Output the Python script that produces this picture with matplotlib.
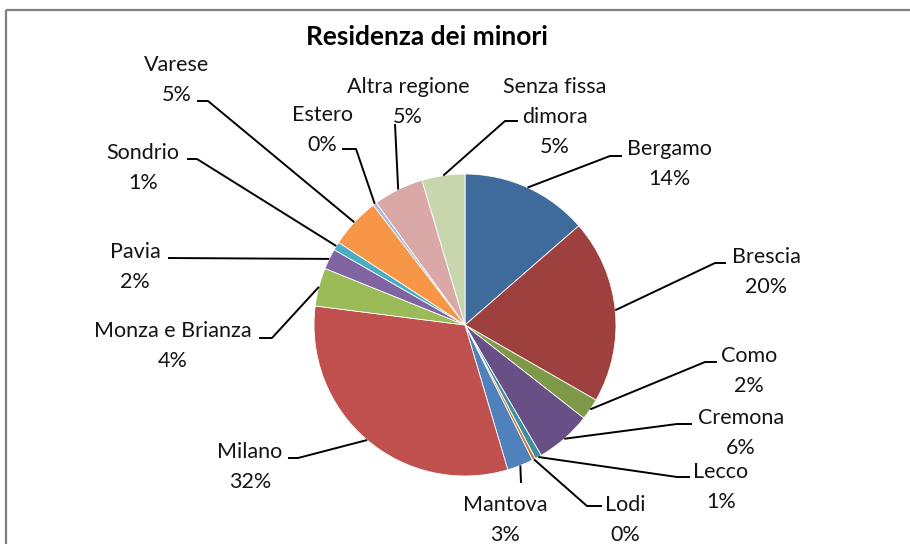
import numpy as np
import matplotlib
matplotlib.use("Agg")
import matplotlib.pyplot as plt
from matplotlib.patches import Rectangle

plt.rcParams['font.family'] = ['Lato', 'DejaVu Sans']

# --- Data (share of minors by residence) ---
categories = ["Bergamo", "Brescia", "Como", "Cremona", "Lecco", "Lodi", "Mantova",
              "Milano", "Monza e Brianza", "Pavia", "Sondrio", "Varese", "Estero",
              "Altra regione", "Senza fissa\ndimora"]
values = [13.6, 19.7, 2.3, 6.0, 0.7, 0.35, 2.8, 31.6, 4.1, 2.2, 0.9, 5.4, 0.4, 5.4, 4.6]
colors = ["#3F6B9C", "#9E413E", "#7E9A48", "#684F86", "#3D8FA4", "#CC7A30", "#4F81BD",
          "#C0504D", "#9BBB59", "#8064A2", "#4BACC6", "#F79646", "#A9B8D9", "#D9A8A7",
          "#C7D6AD"]

# --- Label layout (pixel coords, y down): text centre, leader path from wedge outwards ---
label_xy = [(669, 164), (766, 272), (749, 371), (741, 433), (721, 487), (625, 520),
            (505, 520), (250, 467), (173, 346), (135, 267), (143, 168), (177, 80),
            (322, 130), (408, 102), (555, 117)]
leader_pts = [
    [(610, 156), (622, 156)],
    [(715, 263), (726, 263)],
    [(705, 362), (717, 362)],
    [(677, 424), (692, 424)],
    [(677, 477), (690, 477)],
    [(587, 506), (602, 506)],
    [(521, 483)],
    [(298, 458), (288, 458)],
    [(272, 338), (259, 338)],
    [(168, 258)],
    [(197, 159), (187, 159)],
    [(208, 101), (197, 101)],
    [(356, 149), (342, 149)],
    [(395, 124)],
    [(505, 121), (518, 121)],
]

fig = plt.figure(figsize=(9.1, 5.44), dpi=100)
ax = fig.add_axes([0, 0, 1, 1])

# y axis is flipped below, so startangle=-90 + counterclock means "from 12 o'clock, clockwise"
wedges, _ = ax.pie(values, colors=colors, startangle=-90, counterclock=True,
                   center=(465, 325), radius=151,
                   wedgeprops=dict(edgecolor="white", linewidth=0.6))

ax.set_xlim(0, 910)
ax.set_ylim(544, 0)
ax.set_aspect("auto")
ax.axis("off")

# chart frame (only top and left edges are visible in the crop)
ax.add_patch(Rectangle((6, 10), 1000, 600, fill=False, edgecolor="#7f7f7f",
                       linewidth=1.6, zorder=0))

total = sum(values)
for w, name, v, (tx, ty), pts in zip(wedges, categories, values, label_xy, leader_pts):
    ang = np.deg2rad((w.theta1 + w.theta2) / 2)
    ex = w.center[0] + w.r * np.cos(ang)
    ey = w.center[1] + w.r * np.sin(ang)
    xs = [ex] + [p[0] for p in pts]
    ys = [ey] + [p[1] for p in pts]
    ax.plot(xs, ys, color="black", linewidth=1.4, solid_capstyle="butt")
    ax.text(tx, ty, f"{name}\n{round(v / total * 100)}%", ha="center", va="center",
            fontsize=15.5, linespacing=1.62, color="#141414")

ax.text(427, 37, "Residenza dei minori", ha="center", va="center",
        fontsize=19, fontweight="bold", color="black")

fig.savefig("out.png", dpi=100, facecolor="white")
